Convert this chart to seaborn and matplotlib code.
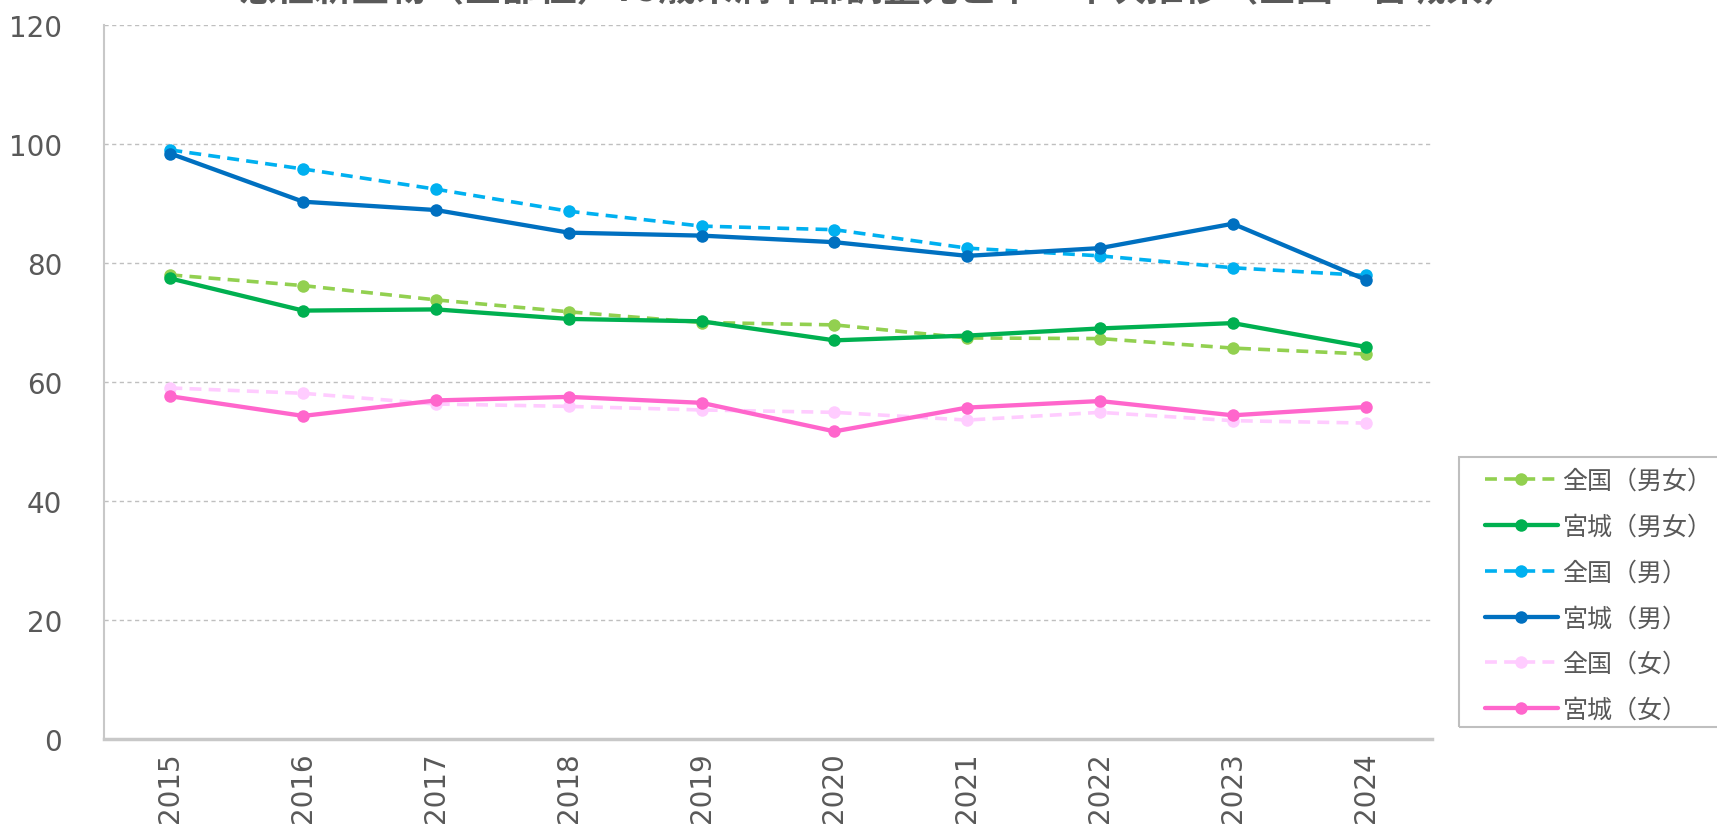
import matplotlib
matplotlib.use("Agg")
import matplotlib.pyplot as plt
from matplotlib.patches import Rectangle
import seaborn as sns

# Age-adjusted cancer mortality (under 75), national vs Miyagi
years = ["2015", "2016", "2017", "2018", "2019", "2020", "2021", "2022", "2023", "2024"]
national_all = [78.0, 76.2, 73.8, 71.8, 70.0, 69.6, 67.4, 67.3, 65.7, 64.7]
miyagi_all = [77.4, 72.0, 72.2, 70.6, 70.2, 67.0, 67.8, 69.0, 69.9, 65.9]
national_male = [99.0, 95.8, 92.4, 88.7, 86.2, 85.6, 82.5, 81.2, 79.2, 77.9]
miyagi_male = [98.4, 90.3, 88.9, 85.1, 84.6, 83.5, 81.2, 82.5, 86.6, 77.2]
national_female = [59.0, 58.1, 56.3, 55.9, 55.3, 54.9, 53.6, 54.9, 53.5, 53.1]
miyagi_female = [57.6, 54.3, 56.9, 57.5, 56.5, 51.7, 55.7, 56.8, 54.4, 55.8]

labels = ["全国（男女）", "宮城（男女）", "全国（男）", "宮城（男）", "全国（女）", "宮城（女）"]
values = [national_all, miyagi_all, national_male, miyagi_male, national_female, miyagi_female]
colors = ["#92D050", "#00B050", "#00B0F0", "#0070C0", "#FFCCFF", "#FF66CC"]
dashed = [True, False, True, False, True, False]

title = "悪性新生物（全部位）75歳未満年齢調整死亡率　年次推移（全国・宮城県）"
y_ticks = [0, 20, 40, 60, 80, 100, 120]

sns.set_theme(style="white")
plt.rcParams["font.family"] = ["DejaVu Sans", "Noto Sans CJK JP"]

W, H = 1717, 828
fig = plt.figure(figsize=(W / 100, H / 100), dpi=100)
ax = fig.add_axes([104 / W, 1 - 740 / H, (1432 - 104) / W, (740 - 26) / H])

text_gray = "#595959"
grid_gray = "#BFBFBF"

for lab, vals, col, dsh in zip(labels, values, colors, dashed):
    ls = (0, (3.3, 2.0)) if dsh else "-"
    lw = 2.6 if dsh else 3.1
    sns.lineplot(x=years, y=vals, ax=ax, color=col, linewidth=lw, linestyle=ls,
                 marker="o", markersize=9, markeredgewidth=0, label=lab, sort=False)

ax.set_xlim(-0.5, len(years) - 0.5)
ax.set_ylim(0, 120)
ax.set_yticks(y_ticks)
ax.set_yticklabels([str(v) for v in y_ticks], fontsize=20, color=text_gray)
ax.set_xticks(range(len(years)))
ax.set_xticklabels(years, rotation=90, fontsize=20, color=text_gray, va="top", ha="center")
ax.tick_params(axis="y", length=0, pad=30)
ax.tick_params(axis="x", length=0, pad=9)
ax.set_xlabel("")
ax.set_ylabel("")

for yv in y_ticks[1:]:
    ax.axhline(yv, color=grid_gray, linewidth=1.0, linestyle=(0, (3, 2.5)), zorder=0)

for side in ["top", "right"]:
    ax.spines[side].set_visible(False)
ax.spines["left"].set_color("#C8C8C8")
ax.spines["left"].set_linewidth(1.5)
ax.spines["bottom"].set_color("#C8C8C8")
ax.spines["bottom"].set_linewidth(2.5)

handles, hlabels = ax.get_legend_handles_labels()
leg = ax.legend(handles, hlabels, loc="upper left", frameon=False,
                bbox_to_anchor=(1485 / W, 1 - 469 / H), bbox_transform=fig.transFigure,
                borderpad=0, borderaxespad=0, handlelength=2.9, handletextpad=0.2,
                labelspacing=0.79,
                prop={"family": ["Noto Sans CJK JP"], "size": 18})
for t in leg.get_texts():
    t.set_color(text_gray)

fig.patches.append(Rectangle((1459 / W, 1 - 728 / H), (1730 - 1459) / W, (728 - 458) / H,
                             transform=fig.transFigure, fill=False,
                             edgecolor="#BFBFBF", linewidth=1.5))

fig.text(880 / W, 1 + 10 / H, title, ha="center", va="center", fontsize=27,
         fontweight="bold", color=text_gray, family=["Noto Sans CJK JP"])

fig.savefig("out.png", dpi=100)
